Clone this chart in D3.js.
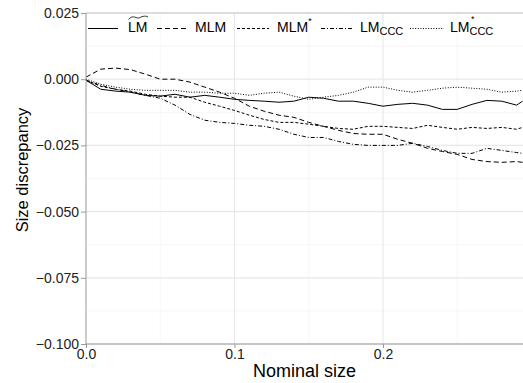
<!DOCTYPE html>
<html>
<head>
<meta charset="utf-8">
<script src="https://cdn.jsdelivr.net/npm/d3@7"></script>
<style>
  body { margin: 0; background: #fff; }
  text { font-family: "Liberation Sans", Arial, sans-serif; }
</style>
</head>
<body>
<div id="chart"></div>
<script>
// nominal sizes (x) shared by all series
var nominal = [0, 0.01, 0.02, 0.03, 0.04, 0.05, 0.06, 0.07, 0.08, 0.09,
  0.10, 0.11, 0.12, 0.13, 0.14, 0.15, 0.16, 0.17, 0.18, 0.19,
  0.20, 0.21, 0.22, 0.23, 0.24, 0.25, 0.26, 0.27, 0.28, 0.29, 0.294];

var lmTilde = [-0.0004, -0.0038, -0.0045, -0.0049, -0.0061, -0.0064, -0.0057, -0.0068, -0.0061, -0.0068,
  -0.0076, -0.0080, -0.0083, -0.0087, -0.0083, -0.0068, -0.0072, -0.0083, -0.0083, -0.0091,
  -0.0102, -0.0095, -0.0091, -0.0098, -0.0114, -0.0114, -0.0095, -0.0080, -0.0083, -0.0098, -0.0083];
var mlm = [0.0008, 0.0038, 0.0042, 0.0036, 0.0019, 0.0000, 0.0000, -0.0011, -0.0030, -0.0049,
  -0.0072, -0.0102, -0.0121, -0.0136, -0.0144, -0.0163, -0.0178, -0.0193, -0.0205, -0.0208,
  -0.0208, -0.0227, -0.0242, -0.0261, -0.0273, -0.0284, -0.0303, -0.0311, -0.0314, -0.0311, -0.0314];
var mlmStar = [-0.0004, -0.0027, -0.0038, -0.0045, -0.0057, -0.0064, -0.0068, -0.0068, -0.0087, -0.0102,
  -0.0118, -0.0136, -0.0152, -0.0163, -0.0163, -0.0170, -0.0178, -0.0186, -0.0189, -0.0178,
  -0.0178, -0.0182, -0.0186, -0.0174, -0.0182, -0.0189, -0.0182, -0.0186, -0.0182, -0.0189, -0.0182];
var lmCcc = [-0.0004, -0.0023, -0.0038, -0.0049, -0.0061, -0.0072, -0.0098, -0.0133, -0.0155, -0.0163,
  -0.0167, -0.0174, -0.0178, -0.0189, -0.0208, -0.0220, -0.0220, -0.0235, -0.0246, -0.0250,
  -0.0250, -0.0250, -0.0242, -0.0254, -0.0269, -0.0280, -0.0280, -0.0261, -0.0269, -0.0277, -0.0280];
var lmCccStar = [0.0000, -0.0019, -0.0030, -0.0038, -0.0042, -0.0042, -0.0042, -0.0049, -0.0049, -0.0053,
  -0.0053, -0.0061, -0.0053, -0.0049, -0.0064, -0.0076, -0.0068, -0.0061, -0.0049, -0.0030,
  -0.0030, -0.0042, -0.0049, -0.0042, -0.0034, -0.0030, -0.0034, -0.0038, -0.0049, -0.0045, -0.0042];

var yTicks = [0.025, 0, -0.025, -0.05, -0.075, -0.1];
var xTicks = [0, 0.1, 0.2];

var series = [
  { key: "lmTilde", values: lmTilde, dash: null },
  { key: "mlm", values: mlm, dash: "5,3" },
  { key: "mlmStar", values: mlmStar, dash: "3,2" },
  { key: "lmCcc", values: lmCcc, dash: "4,2,1,2" },
  { key: "lmCccStar", values: lmCccStar, dash: "1,1.6" }
];

function init() {
  var w = 523, h = 383;
  var left = 86, right = 523, top = 13, bottom = 344;

  var svg = d3.select("#chart").append("svg")
    .attr("width", w).attr("height", h);

  var x = d3.scaleLinear().domain([0, 0.2943]).range([left, right]);
  var y = d3.scaleLinear().domain([-0.1, 0.025]).range([bottom, top]);

  // minor grid
  var xMinor = [0.05, 0.15, 0.25];
  var yMinor = [0.0125, -0.0125, -0.0375, -0.0625, -0.0875];
  svg.append("g").selectAll("line").data(xMinor).enter().append("line")
    .attr("x1", d => x(d)).attr("x2", d => x(d))
    .attr("y1", top).attr("y2", bottom)
    .attr("stroke", "#f4f4f4").attr("stroke-width", 0.8);
  svg.append("g").selectAll("line").data(yMinor).enter().append("line")
    .attr("x1", left).attr("x2", right)
    .attr("y1", d => y(d)).attr("y2", d => y(d))
    .attr("stroke", "#f4f4f4").attr("stroke-width", 0.8);

  // major grid
  svg.append("g").selectAll("line").data(xTicks.slice(1)).enter().append("line")
    .attr("x1", d => x(d)).attr("x2", d => x(d))
    .attr("y1", top).attr("y2", bottom)
    .attr("stroke", "#e8e8e8").attr("stroke-width", 1.2);
  svg.append("g").selectAll("line").data(yTicks.slice(1)).enter().append("line")
    .attr("x1", left).attr("x2", right)
    .attr("y1", d => y(d)).attr("y2", d => y(d))
    .attr("stroke", "#e8e8e8").attr("stroke-width", 1.2);
  svg.append("line")
    .attr("x1", left).attr("x2", right)
    .attr("y1", y(0.025)).attr("y2", y(0.025))
    .attr("stroke", "#bbb").attr("stroke-width", 1);

  // data lines
  var line = d3.line()
    .x((d, i) => x(nominal[i]))
    .y(d => y(d));
  svg.append("g").selectAll("path").data(series).enter().append("path")
    .attr("d", d => line(d.values))
    .attr("fill", "none")
    .attr("stroke", "#000")
    .attr("stroke-width", 1)
    .attr("stroke-dasharray", d => d.dash);

  // axes
  var yAxis = d3.axisLeft(y).tickValues(yTicks).tickFormat(d3.format(".3f")).tickSize(5).tickPadding(2);
  var xAxis = d3.axisBottom(x).tickValues(xTicks).tickFormat(d3.format(".1f")).tickSize(4).tickPadding(1);

  var gy = svg.append("g").attr("transform", "translate(" + left + ",0)").call(yAxis);
  var gx = svg.append("g").attr("transform", "translate(0," + bottom + ")").call(xAxis);
  [gx, gy].forEach(function (g) {
    g.select(".domain").attr("stroke", "#999").attr("stroke-width", 1);
    g.selectAll(".tick line").attr("stroke", "#999");
    g.selectAll(".tick text").attr("fill", "#222").style("font-size", "14px")
      .style("font-family", "'Liberation Sans', Arial, sans-serif");
  });
  gx.select(".domain").attr("d", "M" + left + ",0H" + right);
  gy.select(".domain").attr("d", "M0," + bottom + "V" + top);

  // axis titles
  svg.append("text")
    .attr("x", (left + right) / 2).attr("y", 377)
    .attr("text-anchor", "middle")
    .style("font-size", "18px")
    .text("Nominal size");
  svg.append("text")
    .attr("transform", "translate(28,170) rotate(-90)")
    .attr("text-anchor", "middle")
    .style("font-size", "16.5px")
    .text("Size discrepancy");

  // legend
  var ly = 28.5, by = 32;
  var keys = [
    { x1: 88, x2: 118, tx: 128 },
    { x1: 157, x2: 188, tx: 195 },
    { x1: 237, x2: 269, tx: 277 },
    { x1: 321, x2: 353, tx: 360 },
    { x1: 410, x2: 444, tx: 450 }
  ];
  var leg = svg.append("g");
  leg.selectAll("line").data(series).enter().append("line")
    .attr("x1", (d, i) => keys[i].x1).attr("x2", (d, i) => keys[i].x2)
    .attr("y1", ly).attr("y2", ly)
    .attr("stroke", "#000").attr("stroke-width", 1)
    .attr("stroke-dasharray", d => d.dash);

  // LM with wide tilde
  leg.append("text").attr("x", keys[0].tx).attr("y", by).style("font-size", "14px").text("LM");
  leg.append("path")
    .attr("d", "M" + (keys[0].tx + 0.5) + ",19.5 C" + (keys[0].tx + 5) + ",14 " + (keys[0].tx + 9) + ",19 " +
      (keys[0].tx + 11) + ",18 S" + (keys[0].tx + 17) + ",15 " + (keys[0].tx + 20) + ",17")
    .attr("fill", "none").attr("stroke", "#000").attr("stroke-width", 0.8);

  leg.append("text").attr("x", keys[1].tx).attr("y", by).style("font-size", "14px").text("MLM");

  var t3 = leg.append("text").attr("x", keys[2].tx).attr("y", by).style("font-size", "14px");
  t3.append("tspan").text("MLM");
  t3.append("tspan").attr("dy", -8).style("font-size", "9px").text("*");

  var t4 = leg.append("text").attr("x", keys[3].tx).attr("y", by).style("font-size", "14px");
  t4.append("tspan").text("LM");
  t4.append("tspan").attr("dy", 3).style("font-size", "11px").text("CCC");

  var t5 = leg.append("text").attr("x", keys[4].tx).attr("y", by).style("font-size", "14px");
  t5.append("tspan").text("LM");
  t5.append("tspan").attr("dy", 3).style("font-size", "11px").text("CCC");
  leg.append("text").attr("x", keys[4].tx + 21).attr("y", 22).style("font-size", "9px").text("*");
}

window.onload = init;
</script>
</body>
</html>
